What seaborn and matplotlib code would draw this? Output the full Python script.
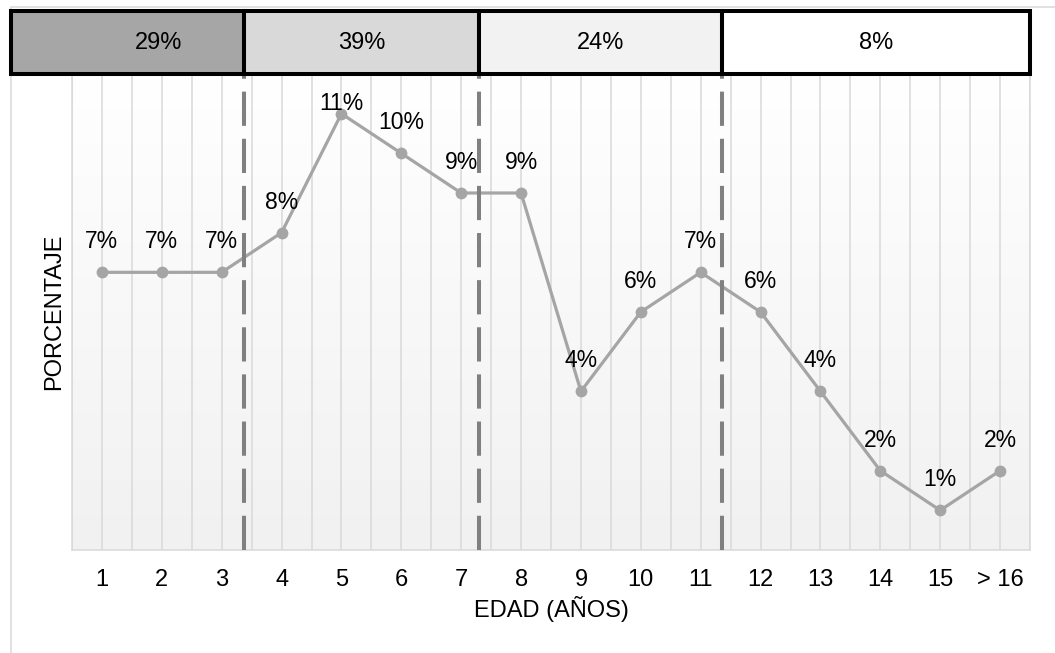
import numpy as np
import pandas as pd
import matplotlib.pyplot as plt
import matplotlib.transforms as mtransforms
from matplotlib.patches import Rectangle
from matplotlib.colors import LinearSegmentedColormap
import seaborn as sns

# Data
edades = ["1", "2", "3", "4", "5", "6", "7", "8", "9", "10", "11", "12", "13", "14", "15", "> 16"]
porcentajes = [7, 7, 7, 8, 11, 10, 9, 9, 4, 6, 7, 6, 4, 2, 1, 2]
grupos = ["29%", "39%", "24%", "8%"]
grupo_colores = ["#a6a6a6", "#d9d9d9", "#f2f2f2", "#ffffff"]

sns.set_style("white")
plt.rcParams["font.family"] = ["Liberation Sans", "DejaVu Sans"]
plt.rcParams["text.color"] = "black"
plt.rcParams["axes.labelcolor"] = "black"
plt.rcParams["xtick.color"] = "black"

df = pd.DataFrame({"pos": np.arange(len(edades)), "pct": porcentajes})

W, H = 1055, 653
fig = plt.figure(figsize=(W / 100, H / 100), dpi=100)
ax = fig.add_axes([72 / W, 103 / H, 958 / W, 476 / H])

# vertical gradient background (white -> light grey)
grad = np.linspace(0, 1, 256).reshape(-1, 1)
cmap = LinearSegmentedColormap.from_list("fondo", ["#ffffff", "#f1f1f1"])
ax.imshow(grad, extent=[0, 1, 0, 1], transform=ax.transAxes, cmap=cmap,
          aspect="auto", origin="upper", zorder=0)

sns.lineplot(data=df, x="pos", y="pct", color="#a5a5a5", linewidth=2.3,
             marker="o", markersize=8.5, markeredgewidth=0, ax=ax, zorder=3)

# group separators (dashed)
cortes = [2.38, 6.30, 10.35]
for xc in cortes:
    ax.plot([xc, xc], [0, 12], color="#808080", lw=2.9, dashes=(8.5, 3.2), zorder=4)

# data labels
for i, v in enumerate(porcentajes):
    ax.text(i, min(v + 0.77, 11.25), f"{v}%", ha="center", va="center",
            fontsize=16.5, color="black", zorder=5)

ax.set_xlim(-0.5, len(edades) - 0.5)
ax.set_ylim(0, 12)
ax.set_xticks(range(len(edades)))
ax.set_xticklabels(edades)
ax.set_xticks(np.arange(-0.5, len(edades), 1), minor=True)
ax.set_yticks([])
ax.set_axisbelow(True)
ax.grid(axis="x", which="both", color="#d9d9d9", lw=1.1)
ax.tick_params(axis="x", which="both", length=0, pad=14, labelsize=17, labelcolor="black")
ax.spines["top"].set_visible(False)
for s in ["left", "right", "bottom"]:
    ax.spines[s].set_color("#d9d9d9")
    ax.spines[s].set_linewidth(1.1)
ax.set_xlabel("EDAD (AÑOS)", fontsize=17, labelpad=3, color="black")
ax.set_ylabel("PORCENTAJE", fontsize=17, labelpad=5, color="black")

# top band with group percentages
trans = mtransforms.blended_transform_factory(ax.transData, ax.transAxes)
bordes = [-1.52] + cortes + [len(edades) - 0.5]
for k, (txt, col) in enumerate(zip(grupos, grupo_colores)):
    x0, x1 = bordes[k], bordes[k + 1]
    ax.add_patch(Rectangle((x0, 1.0), x1 - x0, 0.132, transform=trans,
                           facecolor=col, edgecolor="black", lw=2.9,
                           clip_on=False, zorder=6))
    ax.text((max(x0, -0.5) + x1) / 2, 1.066, txt, transform=trans,
            ha="center", va="center", fontsize=17, color="black", zorder=7)

# chart border remnant (top and left)
fig.add_artist(Rectangle((11 / W, -0.5), 2, 0.5 + 1 - 7 / H, transform=fig.transFigure,
                         fill=False, edgecolor="#d9d9d9", lw=1.1, zorder=-1))

fig.savefig("out.png", dpi=100, facecolor="white")
